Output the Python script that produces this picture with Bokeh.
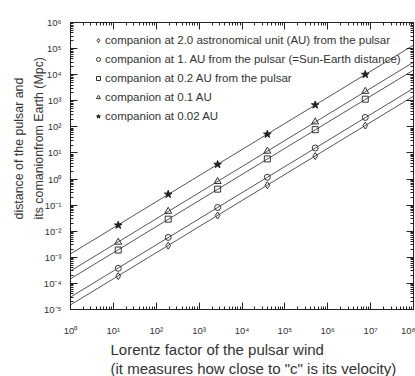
from bokeh.plotting import figure
from bokeh.models import FixedTicker, LogAxis, Legend, LegendItem, Range1d, Title
from bokeh.embed import file_html
from bokeh.resources import INLINE

# ---- data ----
lorentz = [13, 190, 2700, 39000, 5.1e5, 7.5e6]
dist_2au = [1.9e-4, 2.8e-3, 0.040, 0.58, 7.6, 112]
dist_1au = [3.8e-4, 5.8e-3, 0.081, 1.17, 15.5, 230]
dist_02au = [1.9e-3, 0.029, 0.41, 5.9, 78, 1150]
dist_01au = [3.8e-3, 0.058, 0.81, 11.7, 155, 2300]
dist_002au = [0.017, 0.26, 3.6, 52, 690, 10200]

line_x = [1, 1e8]
line_2au = [1.5e-5, 1.5e3]
line_1au = [3.0e-5, 3.0e3]
line_02au = [1.5e-4, 1.5e4]
line_01au = [3.0e-4, 3.0e4]
line_002au = [1.35e-3, 1.35e5]

labels = [
    "companion at 2.0 astronomical unit (AU) from the pulsar",
    "companion at 1. AU from the pulsar (=Sun-Earth distance)",
    "companion at 0.2 AU from the pulsar",
    "companion at 0.1 AU",
    "companion at 0.02 AU",
]
x_title = ["Lorentz factor of the pulsar wind", "(it measures how close to \"c\" is its velocity)"]
y_title = ["distance of the pulsar and", "its comanionfrom Earth (Mpc)"]
x_exponents = list(range(0, 9))
y_exponents = list(range(-5, 7))

FONT = "Liberation Sans"
TXT = "#333333"
LINE = "#555555"

sup = str.maketrans("-0123456789", "⁻⁰¹²³⁴⁵⁶⁷⁸⁹")

def tick_setup(exps, blank=False):
    majors = [10.0 ** e for e in exps]
    minors = [m * 10.0 ** e for e in exps[:-1] for m in range(2, 10)]
    overrides = {10.0 ** e: ("" if blank else "10" + str(e).translate(sup)) for e in exps}
    return FixedTicker(ticks=majors, minor_ticks=minors), overrides

p = figure(width=415, height=376, x_axis_type="log", y_axis_type="log",
           x_range=Range1d(1, 1e8), y_range=Range1d(1e-5, 1e6),
           output_backend="svg", toolbar_location=None,
           min_border_left=70, min_border_right=2, min_border_top=22, min_border_bottom=65)
p.background_fill_color = "white"
p.border_fill_color = "white"
p.outline_line_color = "#222222"
p.grid.visible = False

def style_axis(ax, ticker, overrides, standoff):
    ax.ticker = ticker
    ax.major_label_overrides = overrides
    ax.major_tick_in = 7
    ax.major_tick_out = 0
    ax.minor_tick_in = 3
    ax.minor_tick_out = 0
    ax.axis_line_color = "#222222"
    ax.major_tick_line_color = "#222222"
    ax.minor_tick_line_color = "#222222"
    ax.major_label_text_font = FONT
    ax.major_label_text_color = TXT
    ax.major_label_text_font_size = "9.5px"
    ax.major_label_standoff = standoff

xt, xo = tick_setup(x_exponents)
yt, yo = tick_setup(y_exponents)
style_axis(p.xaxis[0], xt, xo, 15)
style_axis(p.yaxis[0], yt, yo, 9)
xt2, xo2 = tick_setup(x_exponents, blank=True)
yt2, yo2 = tick_setup(y_exponents, blank=True)
top_ax = LogAxis()
right_ax = LogAxis()
style_axis(top_ax, xt2, xo2, 0)
style_axis(right_ax, yt2, yo2, 0)
p.add_layout(top_ax, "above")
p.add_layout(right_ax, "right")

for ly in [line_2au, line_1au, line_02au, line_01au, line_002au]:
    p.line(line_x, ly, line_color=LINE, line_width=1)

r1 = p.scatter(lorentz, dist_2au, marker="diamond", size=7, fill_color=None, line_color="#333333")
r2 = p.scatter(lorentz, dist_1au, marker="circle", size=6, fill_color=None, line_color="#333333")
r3 = p.scatter(lorentz, dist_02au, marker="square", size=6, fill_color=None, line_color="#333333")
r4 = p.scatter(lorentz, dist_01au, marker="triangle", size=7, fill_color=None, line_color="#333333")
r5 = p.scatter(lorentz, dist_002au, marker="star", size=8, fill_color="#222222", line_color="#222222")

legend = Legend(items=[LegendItem(label=l, renderers=[r]) for l, r in zip(labels, [r1, r2, r3, r4, r5])],
                location=(23, 185), margin=0, padding=0, spacing=3,
                glyph_width=10, glyph_height=16, label_height=16, label_standoff=2,
                label_text_font=FONT, label_text_font_size="11.5px", label_text_color=TXT,
                border_line_color=None, background_fill_alpha=0)
p.add_layout(legend, "center")

for t in x_title:
    p.add_layout(Title(text=t, align="left", offset=40, standoff=0,
                       text_font=FONT, text_font_size="15px", text_color=TXT,
                       text_font_style="normal"), "below")
p.add_layout(Title(text="\n".join(y_title), align="left", offset=90, standoff=-11,
                   text_font=FONT, text_font_size="12.4px", text_color=TXT,
                   text_line_height=1.45, text_font_style="normal"), "left")

open("out.html", "w").write(file_html(p, INLINE))
